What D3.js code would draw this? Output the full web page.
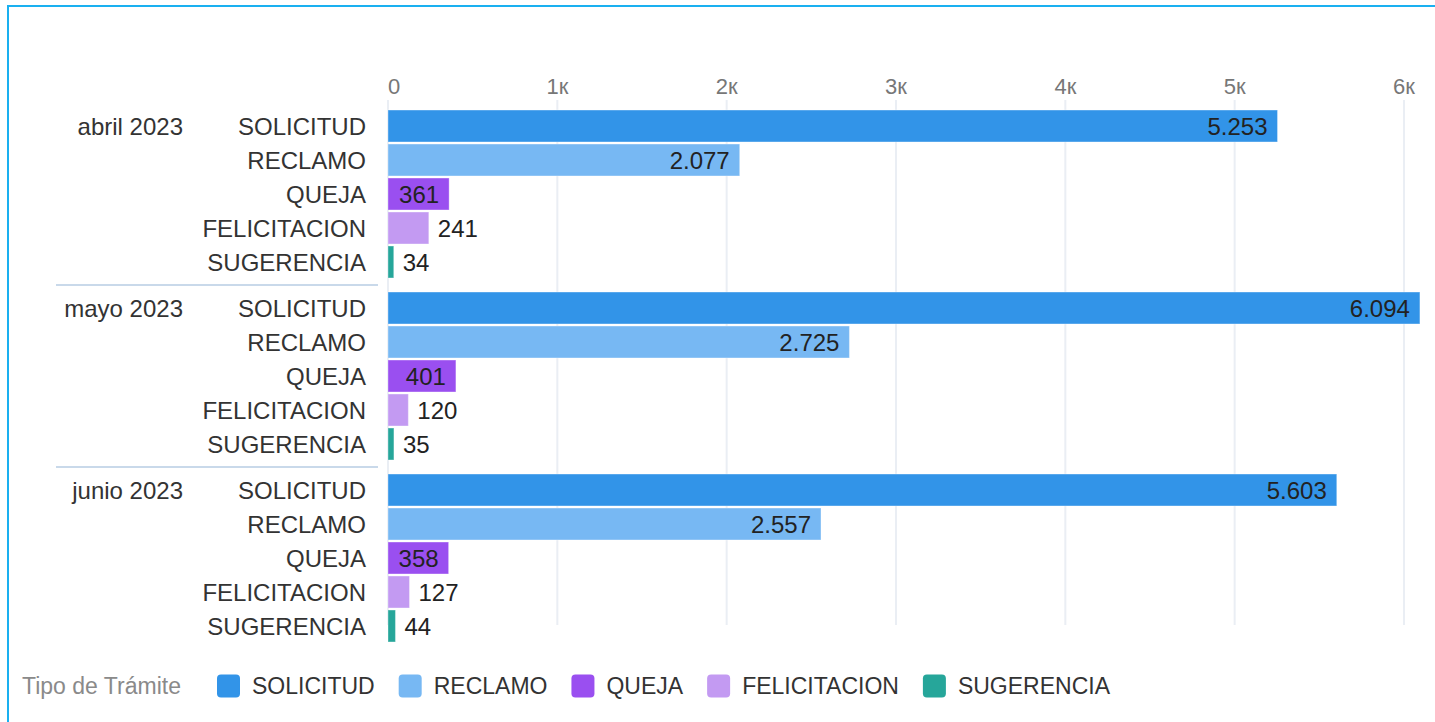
<!DOCTYPE html>
<html>
<head>
<meta charset="utf-8">
<script src="https://cdn.jsdelivr.net/npm/d3@7"></script>
<style>
  body { margin: 0; background: #fff; }
  svg { font-family: "Liberation Sans", Arial, sans-serif; }
</style>
</head>
<body>
<script>
var months = ["abril 2023", "mayo 2023", "junio 2023"];
var tipos = ["SOLICITUD", "RECLAMO", "QUEJA", "FELICITACION", "SUGERENCIA"];
var colores = ["#3294e8", "#77b8f3", "#9a4ff0", "#c39af2", "#26a69a"];
// valores por mes, en el orden de tipos
var abril = [5253, 2077, 361, 241, 34];
var mayo = [6094, 2725, 401, 120, 35];
var junio = [5603, 2557, 358, 127, 44];
var valores = [abril, mayo, junio];
var ticks = [0, 1000, 2000, 3000, 4000, 5000, 6000];

var width = 1435, height = 722;
var x0 = 388;
var fs = "24px";

var loc = d3.formatLocale({ decimal: ",", thousands: ".", grouping: [3], currency: ["", ""] });
var fmt = loc.format(",d");

var svg = d3.select("body").append("svg")
  .attr("width", width)
  .attr("height", height);

// borde
svg.append("rect")
  .attr("x", 8).attr("y", 6)
  .attr("width", 1445).attr("height", 740)
  .attr("fill", "none")
  .attr("stroke", "#1ab0f0")
  .attr("stroke-width", 2);

var x = d3.scaleLinear().domain([0, 6000]).range([x0, 1404]);

var yGroup = d3.scaleBand()
  .domain(months)
  .range([109, 643])
  .paddingInner(12 / 182);

var yRow = d3.scaleBand()
  .domain(tipos)
  .range([0, yGroup.bandwidth()])
  .paddingInner(0.06)
  .paddingOuter(0.03);

var color = d3.scaleOrdinal().domain(tipos).range(colores);

// grilla
svg.append("g")
  .selectAll("line")
  .data(ticks)
  .enter()
  .append("line")
  .attr("x1", function(d) { return x(d); })
  .attr("x2", function(d) { return x(d); })
  .attr("y1", 100)
  .attr("y2", 625)
  .attr("stroke", "#eaeef4")
  .attr("stroke-width", 2);

svg.append("g")
  .selectAll("text")
  .data(ticks)
  .enter()
  .append("text")
  .attr("x", function(d) { return x(d); })
  .attr("y", 94)
  .attr("text-anchor", function(d) { return d === 0 ? "start" : "middle"; })
  .attr("fill", "#777")
  .style("font-size", "22px")
  .text(function(d) { return d === 0 ? "0" : (d / 1000) + "\u043a"; });

// separadores entre meses
svg.append("g")
  .selectAll("line")
  .data(months.slice(1))
  .enter()
  .append("line")
  .attr("x1", 56)
  .attr("x2", 378)
  .attr("y1", function(d) { return yGroup(d) - yGroup.step() * yGroup.paddingInner() / 2; })
  .attr("y2", function(d) { return yGroup(d) - yGroup.step() * yGroup.paddingInner() / 2; })
  .attr("stroke", "#c9d9ea")
  .attr("stroke-width", 2);

var groups = svg.append("g")
  .selectAll("g")
  .data(months)
  .enter()
  .append("g")
  .attr("transform", function(d) { return "translate(0," + yGroup(d) + ")"; });

groups.append("text")
  .attr("x", 183)
  .attr("y", yRow(tipos[0]) + yRow.bandwidth() / 2)
  .attr("dy", "0.36em")
  .attr("text-anchor", "end")
  .attr("fill", "#333")
  .style("font-size", fs)
  .text(function(d) { return d; });

var rows = groups.selectAll("g.row")
  .data(function(d, i) {
    return tipos.map(function(t, j) { return { tipo: t, valor: valores[i][j] }; });
  })
  .enter()
  .append("g")
  .attr("class", "row")
  .attr("transform", function(d) { return "translate(0," + yRow(d.tipo) + ")"; });

rows.append("text")
  .attr("x", 366)
  .attr("y", yRow.bandwidth() / 2)
  .attr("dy", "0.36em")
  .attr("text-anchor", "end")
  .attr("fill", "#333")
  .style("font-size", fs)
  .text(function(d) { return d.tipo; });

rows.append("rect")
  .attr("x", x(0))
  .attr("y", 0)
  .attr("width", function(d) { return x(d.valor) - x(0); })
  .attr("height", yRow.bandwidth())
  .attr("fill", function(d) { return color(d.tipo); })
  .attr("stroke", "rgba(255,255,255,0.35)")
  .attr("stroke-width", 1);

rows.append("text")
  .attr("x", function(d) {
    var w = x(d.valor) - x(0);
    return w > 55 ? x(d.valor) - 10 : x(d.valor) + 9;
  })
  .attr("y", yRow.bandwidth() / 2)
  .attr("dy", "0.36em")
  .attr("text-anchor", function(d) { return x(d.valor) - x(0) > 55 ? "end" : "start"; })
  .attr("fill", "#222")
  .style("font-size", fs)
  .text(function(d) { return fmt(d.valor); });

// leyenda
var legend = svg.append("g").attr("transform", "translate(0,686)");

legend.append("text")
  .attr("x", 22)
  .attr("dy", "0.36em")
  .attr("fill", "#8a8a8a")
  .style("font-size", "23px")
  .text("Tipo de Tr\u00e1mite");

var lx = 217;
tipos.forEach(function(t) {
  var item = legend.append("g").attr("transform", "translate(" + lx + ",0)");
  item.append("rect")
    .attr("x", 0).attr("y", -11.5)
    .attr("width", 23).attr("height", 23)
    .attr("rx", 4)
    .attr("fill", color(t));
  var txt = item.append("text")
    .attr("x", 35)
    .attr("dy", "0.36em")
    .attr("fill", "#333")
    .style("font-size", "23px")
    .text(t);
  lx += 35 + txt.node().getComputedTextLength() + 24;
});
</script>
</body>
</html>
